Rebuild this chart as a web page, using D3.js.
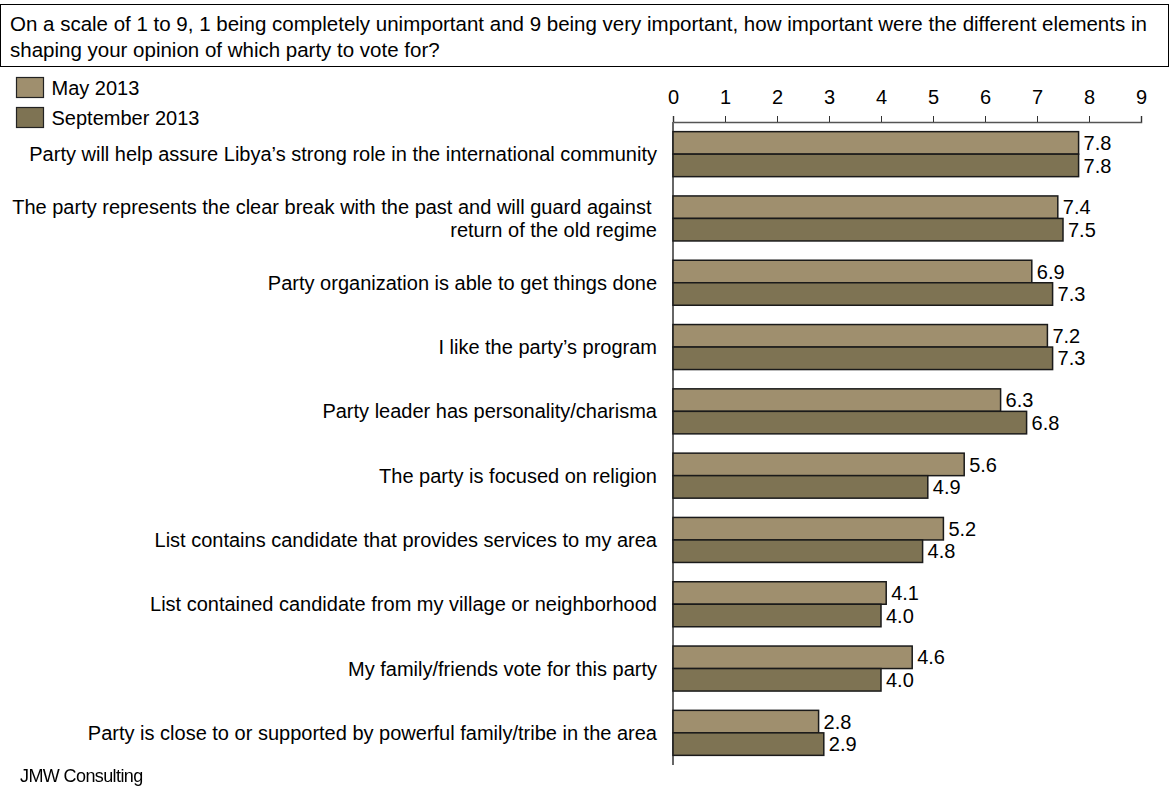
<!DOCTYPE html>
<html>
<head>
<meta charset="utf-8">
<script src="https://cdn.jsdelivr.net/npm/d3@7"></script>
<style>
  html, body { margin: 0; padding: 0; background: #fff; }
  svg { display: block; }
  text { font-family: "Liberation Sans", Arial, sans-serif; fill: #000; }
</style>
</head>
<body>
<svg id="chart" width="1171" height="792"></svg>
<script>
// Survey question shown in the header box
const titleLines = [
  "On a scale of 1 to 9, 1 being completely unimportant and 9 being very important, how important were the different elements in",
  "shaping your opinion of which party to vote for?"
];

// Survey items, top to bottom (each entry is the list of label lines)
const categories = [
  ["Party will help assure Libya\u2019s strong role in the international community"],
  ["The party represents the clear break with the past and will guard against\u00a0", "return of the old regime"],
  ["Party organization is able to get things done"],
  ["I like the party\u2019s program"],
  ["Party leader has personality/charisma"],
  ["The party is focused on religion"],
  ["List contains candidate that provides services to my area"],
  ["List contained candidate from my village or neighborhood"],
  ["My family/friends vote for this party"],
  ["Party is close to or supported by powerful family/tribe in the area"]
];

const seriesNames = ["May 2013", "September 2013"];
const may2013 = [7.8, 7.4, 6.9, 7.2, 6.3, 5.6, 5.2, 4.1, 4.6, 2.8];
const sep2013 = [7.8, 7.5, 7.3, 7.3, 6.8, 4.9, 4.8, 4.0, 4.0, 2.9];
const seriesColors = ["#9f8f6e", "#7e7353"];
const tickValues = [0, 1, 2, 3, 4, 5, 6, 7, 8, 9];
const footerText = "JMW Consulting";

const svg = d3.select("#chart");

// Header box with the question
svg.append("rect")
  .attr("x", 0.5).attr("y", 4.5)
  .attr("width", 1168).attr("height", 62)
  .attr("fill", "#fff").attr("stroke", "#000").attr("stroke-width", 1);

svg.append("g").selectAll("text")
  .data(titleLines)
  .join("text")
  .attr("x", 10)
  .attr("y", (d, i) => 31 + i * 26)
  .attr("font-size", 20.5)
  .text(d => d);

// Scales
const x = d3.scaleLinear().domain([0, 9]).range([673, 1141]);
const idx = d3.range(categories.length);
const y = d3.scaleBand().domain(idx).range([122, 765]).paddingInner(0.3).paddingOuter(0.15);
const ySub = d3.scaleBand().domain([0, 1]).range([0, y.bandwidth()]);

// Legend
const legend = svg.append("g").selectAll("g")
  .data(seriesNames)
  .join("g")
  .attr("transform", (d, i) => `translate(16.5, ${77.5 + i * 30})`);
legend.append("rect")
  .attr("width", 27).attr("height", 20)
  .attr("fill", (d, i) => seriesColors[i])
  .attr("stroke", "#222").attr("stroke-width", 1.2);
legend.append("text")
  .attr("x", 35).attr("y", 10).attr("dy", "0.35em")
  .attr("font-size", 20)
  .text(d => d);

// Top axis
const axis = svg.append("g")
  .attr("transform", "translate(0,122)")
  .call(d3.axisTop(x).tickValues(tickValues).tickSize(6).tickPadding(12).tickFormat(d3.format("d")));
axis.select(".domain").attr("stroke", "#555").attr("stroke-width", 1.5);
axis.selectAll(".tick line").attr("stroke", "#333");
axis.selectAll(".tick text").attr("font-size", 20).attr("font-family", "Liberation Sans, Arial, sans-serif").attr("fill", "#000");

// Vertical baseline
svg.append("line")
  .attr("x1", x(0)).attr("x2", x(0))
  .attr("y1", 122).attr("y2", 765)
  .attr("stroke", "#666").attr("stroke-width", 2);

// Bars
const series = [may2013, sep2013];
const groups = svg.append("g").selectAll("g")
  .data(idx)
  .join("g")
  .attr("transform", i => `translate(0, ${y(i)})`);

groups.selectAll("rect")
  .data(i => series.map((s, k) => ({ k, v: s[i] })))
  .join("rect")
  .attr("x", x(0))
  .attr("y", d => ySub(d.k))
  .attr("width", d => x(d.v) - x(0))
  .attr("height", ySub.bandwidth())
  .attr("fill", d => seriesColors[d.k])
  .attr("stroke", "#1a1a1a").attr("stroke-width", 1.5);

groups.selectAll("text.val")
  .data(i => series.map((s, k) => ({ k, v: s[i] })))
  .join("text")
  .attr("class", "val")
  .attr("x", d => x(d.v) + 5)
  .attr("y", d => ySub(d.k) + ySub.bandwidth() / 2)
  .attr("dy", "0.36em")
  .attr("font-size", 20)
  .text(d => d.v.toFixed(1));

// Category labels, centred on each pair of bars
groups.each(function (i) {
  const lines = categories[i];
  const mid = y.bandwidth() / 2;
  const lh = 23;
  d3.select(this).selectAll("text.cat")
    .data(lines)
    .join("text")
    .attr("class", "cat")
    .attr("x", 657)
    .attr("y", (d, j) => mid + (j - (lines.length - 1) / 2) * lh)
    .attr("dy", "0.35em")
    .attr("text-anchor", "end")
    .attr("font-size", 20)
    .attr("xml:space", "preserve")
    .text(d => d);
});

// Footer mark
const defs = svg.append("defs");
defs.append("filter").attr("id", "soft")
  .append("feGaussianBlur").attr("stdDeviation", 0.5);
svg.append("text")
  .attr("x", 20).attr("y", 782)
  .attr("font-family", "Lato, 'Open Sans', sans-serif")
  .attr("font-size", 18)
  .attr("letter-spacing", -0.6)
  .attr("fill", "#444")
  .attr("filter", "url(#soft)")
  .text(footerText);
</script>
</body>
</html>
